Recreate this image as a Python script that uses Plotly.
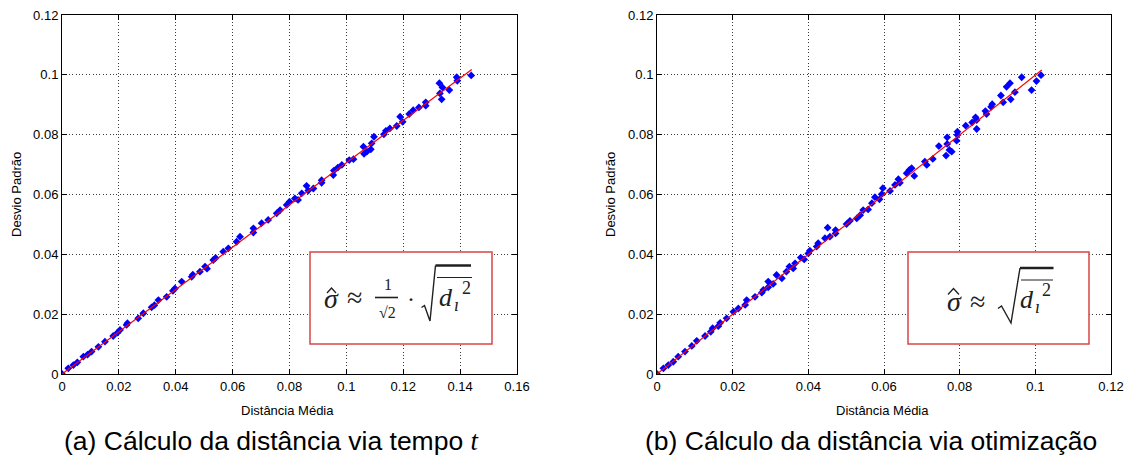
import plotly.graph_objects as go

W, H = 1127, 462

# (a) distance computed from travel time t
dist_tempo = [0.0000, 0.0022, 0.0040, 0.0054, 0.0075, 0.0090, 0.0104, 0.0128, 0.0151, 0.0180,
              0.0195, 0.0204, 0.0227, 0.0230, 0.0268, 0.0286, 0.0315, 0.0325, 0.0339, 0.0368,
              0.0390, 0.0397, 0.0421, 0.0456, 0.0460, 0.0485, 0.0503, 0.0510, 0.0532, 0.0540,
              0.0567, 0.0585, 0.0614, 0.0626, 0.0673, 0.0673, 0.0702, 0.0725, 0.0755, 0.0767,
              0.0790, 0.0800, 0.0819, 0.0830, 0.0843, 0.0860, 0.0866, 0.0884, 0.0913, 0.0913,
              0.0954, 0.0956, 0.0970, 0.0984, 0.1010, 0.1025, 0.1060, 0.1062, 0.1072, 0.1086,
              0.1089, 0.1097, 0.1132, 0.1139, 0.1153, 0.1177, 0.1189, 0.1198, 0.1221, 0.1235,
              0.1255, 0.1279, 0.1279, 0.1327, 0.1329, 0.1335, 0.1338, 0.1362, 0.1388, 0.1390,
              0.1439]
desvio_tempo = [0.0000, 0.0019, 0.0030, 0.0039, 0.0058, 0.0065, 0.0075, 0.0091, 0.0108, 0.0127,
                0.0138, 0.0147, 0.0164, 0.0170, 0.0186, 0.0203, 0.0223, 0.0230, 0.0247, 0.0258,
                0.0278, 0.0286, 0.0309, 0.0325, 0.0332, 0.0342, 0.0359, 0.0352, 0.0381, 0.0388,
                0.0409, 0.0420, 0.0442, 0.0459, 0.0487, 0.0473, 0.0504, 0.0515, 0.0537, 0.0548,
                0.0565, 0.0576, 0.0587, 0.0582, 0.0604, 0.0629, 0.0613, 0.0620, 0.0648, 0.0639,
                0.0665, 0.0680, 0.0690, 0.0699, 0.0715, 0.0718, 0.0760, 0.0736, 0.0743, 0.0751,
                0.0771, 0.0793, 0.0801, 0.0813, 0.0821, 0.0829, 0.0860, 0.0843, 0.0869, 0.0882,
                0.0891, 0.0908, 0.0897, 0.0972, 0.0938, 0.0918, 0.0958, 0.0949, 0.0992, 0.0980,
                0.0998]
ajuste_tempo_x = [0.0, 0.1441]
ajuste_tempo_y = [0.0, 0.1018]

# (b) distance computed by optimisation
dist_otim = [0.0000, 0.0017, 0.0030, 0.0043, 0.0056, 0.0074, 0.0092, 0.0105, 0.0127, 0.0142,
             0.0147, 0.0162, 0.0167, 0.0184, 0.0202, 0.0215, 0.0233, 0.0237, 0.0259, 0.0277,
             0.0281, 0.0294, 0.0294, 0.0307, 0.0316, 0.0330, 0.0342, 0.0350, 0.0360, 0.0365,
             0.0380, 0.0389, 0.0400, 0.0404, 0.0422, 0.0426, 0.0444, 0.0451, 0.0457, 0.0472,
             0.0472, 0.0501, 0.0510, 0.0528, 0.0537, 0.0545, 0.0558, 0.0568, 0.0576, 0.0588,
             0.0594, 0.0597, 0.0616, 0.0629, 0.0642, 0.0638, 0.0660, 0.0667, 0.0673, 0.0680,
             0.0708, 0.0713, 0.0729, 0.0745, 0.0764, 0.0767, 0.0767, 0.0773, 0.0779, 0.0792,
             0.0794, 0.0794, 0.0816, 0.0833, 0.0842, 0.0845, 0.0845, 0.0868, 0.0871, 0.0883,
             0.0886, 0.0909, 0.0915, 0.0924, 0.0933, 0.0935, 0.0946, 0.0964, 0.0990, 0.1003,
             0.1015]
desvio_otim = [0.0000, 0.0019, 0.0030, 0.0041, 0.0058, 0.0075, 0.0094, 0.0111, 0.0127, 0.0141,
               0.0153, 0.0160, 0.0171, 0.0186, 0.0208, 0.0219, 0.0231, 0.0247, 0.0258, 0.0272,
               0.0281, 0.0290, 0.0309, 0.0301, 0.0331, 0.0320, 0.0342, 0.0359, 0.0353, 0.0370,
               0.0389, 0.0383, 0.0403, 0.0412, 0.0426, 0.0437, 0.0454, 0.0489, 0.0459, 0.0481,
               0.0470, 0.0501, 0.0512, 0.0520, 0.0531, 0.0548, 0.0550, 0.0571, 0.0591, 0.0584,
               0.0601, 0.0621, 0.0612, 0.0632, 0.0639, 0.0651, 0.0671, 0.0682, 0.0688, 0.0662,
               0.0710, 0.0699, 0.0719, 0.0762, 0.0730, 0.0769, 0.0791, 0.0749, 0.0743, 0.0780,
               0.0810, 0.0799, 0.0830, 0.0841, 0.0858, 0.0819, 0.0849, 0.0879, 0.0869, 0.0893,
               0.0902, 0.0931, 0.0908, 0.0960, 0.0972, 0.0918, 0.0942, 0.0992, 0.0949, 0.0979,
               0.0999]
ajuste_otim_x = [0.0, 0.1017]
ajuste_otim_y = [0.0, 0.1016]

ticks_x_a = [0, 0.02, 0.04, 0.06, 0.08, 0.10, 0.12, 0.14, 0.16]
rotulos_x_a = ["0", "0.02", "0.04", "0.06", "0.08", "0.1", "0.12", "0.14", "0.16"]
ticks_x_b = [0, 0.02, 0.04, 0.06, 0.08, 0.10, 0.12]
rotulos_x_b = ["0", "0.02", "0.04", "0.06", "0.08", "0.1", "0.12"]
ticks_y = [0, 0.02, 0.04, 0.06, 0.08, 0.10, 0.12]
rotulos_y = ["0", "0.02", "0.04", "0.06", "0.08", "0.1", "0.12"]

titulo_x = "Distância Média"
titulo_y = "Desvio Padrão"
legenda_a = "(a) Cálculo da distância via tempo <span style='font-family:Liberation Serif'><i>t</i></span>"
legenda_b = "(b) Cálculo da distância via otimização"


def px(x):
    return x / W


def py(y):
    return 1 - y / H


SANS = "Liberation Sans"
SERIF = "Liberation Serif"
INK = "#202020"

fig = go.Figure()

for xs, ys, fx, fy, xa, ya in [
    (dist_tempo, desvio_tempo, ajuste_tempo_x, ajuste_tempo_y, "x", "y"),
    (dist_otim, desvio_otim, ajuste_otim_x, ajuste_otim_y, "x2", "y2"),
]:
    fig.add_trace(go.Scatter(
        x=xs, y=ys, mode="markers", xaxis=xa, yaxis=ya, showlegend=False,
        marker=dict(symbol="diamond", size=6, color="#0000ff", line=dict(width=0)),
    ))
    fig.add_trace(go.Scatter(
        x=fx, y=fy, mode="lines", xaxis=xa, yaxis=ya, showlegend=False,
        line=dict(color="#ff0000", width=1.2),
    ))

axis_style = dict(
    showline=True, linecolor="black", linewidth=1, mirror="ticks",
    ticks="inside", ticklen=5, tickcolor="black", tickwidth=1,
    showgrid=True, gridcolor="#3a3a3a", gridwidth=1, griddash="1px,2.4px",
    zeroline=False, tickfont=dict(family=SANS, size=13, color="black"),
    automargin=False, fixedrange=True,
)

y_dom = [py(374), py(15)]
fig.update_layout(
    width=W, height=H, margin=dict(l=0, r=0, t=0, b=0),
    paper_bgcolor="white", plot_bgcolor="white",
    xaxis=dict(domain=[px(62), px(517)], range=[0, 0.16], tickvals=ticks_x_a,
               ticktext=rotulos_x_a, anchor="y", **axis_style),
    yaxis=dict(domain=y_dom, range=[0, 0.12], tickvals=ticks_y,
               ticktext=rotulos_y, anchor="x", **axis_style),
    xaxis2=dict(domain=[px(657), px(1111)], range=[0, 0.12], tickvals=ticks_x_b,
                ticktext=rotulos_x_b, anchor="y2", **axis_style),
    yaxis2=dict(domain=y_dom, range=[0, 0.12], tickvals=ticks_y,
                ticktext=rotulos_y, anchor="x2", **axis_style),
)

anns = []
shapes = []


def texto(x, y, s, size, family=SANS, color="black", angle=0, xanchor="center"):
    anns.append(dict(xref="paper", yref="paper", x=px(x), y=py(y), text=s,
                     showarrow=False, xanchor=xanchor, yanchor="middle", textangle=angle,
                     font=dict(family=family, size=size, color=color)))


def linha(x0, y0, x1, y1, width, color=INK):
    shapes.append(dict(type="line", xref="paper", yref="paper",
                       x0=px(x0), y0=py(y0), x1=px(x1), y1=py(y1),
                       line=dict(color=color, width=width)))


def caminho(pts, width, color=INK):
    d = "M " + " L ".join(f"{px(a):.5f},{py(b):.5f}" for a, b in pts)
    shapes.append(dict(type="path", xref="paper", yref="paper", path=d,
                       line=dict(color=color, width=width)))


# axis titles
texto(287, 410, titulo_x, 13)
texto(882, 410, titulo_x, 13)
texto(16, 195, titulo_y, 13, angle=-90)
texto(610, 195, titulo_y, 13, angle=-90)

# sub-figure captions
texto(62, 441, legenda_a, 26.5, xanchor="left")
texto(643, 441, legenda_b, 26.5, xanchor="left")

# formula frames
for x0, x1 in [(310, 492), (908, 1089)]:
    shapes.append(dict(type="rect", xref="paper", yref="paper",
                       x0=px(x0), x1=px(x1), y0=py(344), y1=py(252),
                       fillcolor="white", line=dict(color="#d94545", width=1.5)))

# left formula: sigma ~ 1/sqrt(2) * sqrt(mean d_i^2)
texto(331, 298, "<i>σ</i>", 28, SERIF, INK)
caminho([(327, 293), (331.5, 288), (336, 293)], 1.3)
texto(354, 297.5, "≈", 28, SERIF, INK)
texto(387.5, 284, "1", 16, SERIF, INK)
linha(375, 297.5, 398, 297.5, 1.6)
texto(387, 312, "√2", 16, SERIF, INK)
texto(411, 299, "·", 24, SERIF, INK)
caminho([(421.5, 307.5), (424.5, 305.5), (430, 321), (435.5, 265.5)], 1.4)
linha(435.5, 265.5, 471, 265.5, 2.4)
linha(437, 277.5, 472, 277.5, 1.0)
texto(446, 297, "<i>d</i>", 26, SERIF, INK)
texto(456.5, 305, "<i>ı</i>", 18, SERIF, INK)
texto(466, 288, "2", 18, SERIF, INK)

# right formula: sigma ~ sqrt(mean d_i^2)
texto(954, 301, "<i>σ</i>", 28, SERIF, INK)
caminho([(948, 294.5), (953.5, 288.5), (959, 294.5)], 1.3)
texto(977.5, 301, "≈", 28, SERIF, INK)
caminho([(998, 308.5), (1001.5, 306), (1011, 323), (1020, 268)], 1.4)
linha(1020, 268, 1053.5, 268, 2.4)
linha(1021, 280, 1053, 280, 1.0)
texto(1027, 299, "<i>d</i>", 26, SERIF, INK)
texto(1037.5, 307, "<i>ı</i>", 18, SERIF, INK)
texto(1046.5, 290, "2", 18, SERIF, INK)

fig.update_layout(annotations=anns, shapes=shapes)

fig.write_html("out.html")
